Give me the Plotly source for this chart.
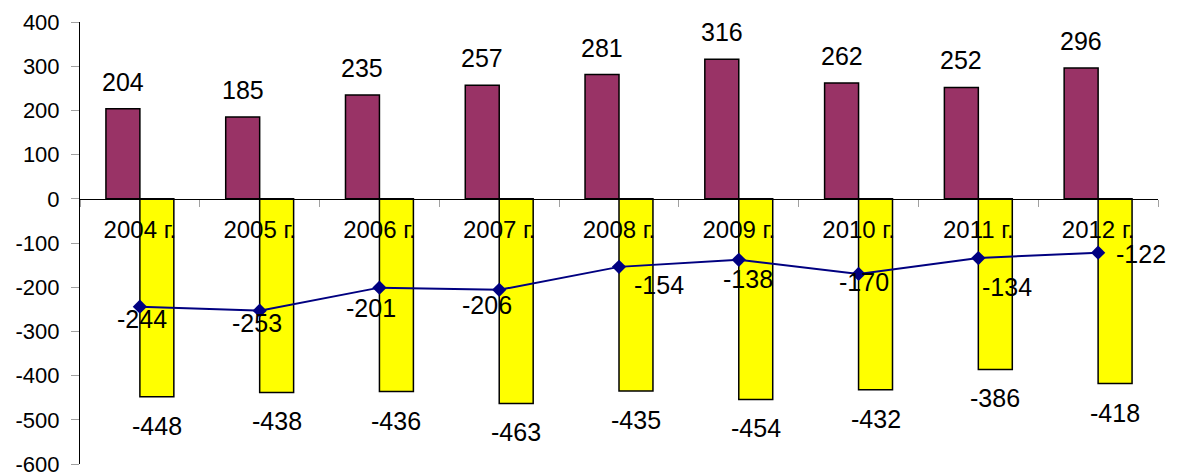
import plotly.graph_objects as go

categories = ["2004 г.", "2005 г.", "2006 г.", "2007 г.", "2008 г.",
              "2009 г.", "2010 г.", "2011 г.", "2012 г."]
positive_values = [204, 185, 235, 257, 281, 316, 262, 252, 296]
negative_values = [-448, -438, -436, -463, -435, -454, -432, -386, -418]
balance_values = [-244, -253, -201, -206, -154, -138, -170, -134, -122]
y_tick_values = [400, 300, 200, 100, 0, -100, -200, -300, -400, -500, -600]
y_tick_labels = [str(v) for v in y_tick_values]

# label offsets (pixels) for line labels: right, down
line_label_dx = [2, -3, -8, -12, 40, 9, 5, 29, 43]
line_label_dy = [12, 12, 20, 15, 18, 19, 8, 29, 1]

FONT = "Liberation Sans, Arial, sans-serif"

fig = go.Figure()
fig.add_trace(go.Bar(x=categories, y=positive_values,
                     marker=dict(color="#993366", line=dict(color="black", width=1.5)),
                     showlegend=False))
fig.add_trace(go.Bar(x=categories, y=negative_values,
                     marker=dict(color="#FFFF00", line=dict(color="black", width=1.5)),
                     showlegend=False))
fig.add_trace(go.Scatter(x=categories, y=balance_values, mode="lines+markers",
                         line=dict(color="#000080", width=2),
                         marker=dict(symbol="diamond", size=11, color="#000080"),
                         showlegend=False))

annotations = []
for c, v in zip(categories, positive_values):
    annotations.append(dict(x=c, y=v, text=str(v), showarrow=False, xshift=-17, yshift=27,
                            font=dict(size=25, color="black", family=FONT)))
for c, v in zip(categories, negative_values):
    annotations.append(dict(x=c, y=v, text=str(v), showarrow=False, xshift=17, yshift=-29,
                            font=dict(size=25, color="black", family=FONT)))
for c, v, dx, dy in zip(categories, balance_values, line_label_dx, line_label_dy):
    annotations.append(dict(x=c, y=v, text=str(v), showarrow=False, xshift=dx, yshift=-dy,
                            font=dict(size=25, color="black", family=FONT)))

fig.update_layout(
    width=1181, height=475,
    margin=dict(l=80, r=23, t=22, b=11),
    paper_bgcolor="white", plot_bgcolor="white",
    barmode="group", bargap=0.433, bargroupgap=0,
    font=dict(family=FONT, color="black"),
    annotations=annotations,
    xaxis=dict(type="category", anchor="free", position=0.6, automargin=False,
               showline=True, linecolor="black", linewidth=1,
               ticks="outside", tickson="boundaries", ticklen=7, tickcolor="#a0a0a0",
               ticklabelstandoff=9,
               tickfont=dict(size=24, family=FONT, color="black"),
               showgrid=False, zeroline=False, range=[-0.5, 8.5]),
    yaxis=dict(range=[-600, 400], tickvals=y_tick_values, ticktext=y_tick_labels,
               automargin=False, ticklabeloverflow="allow",
               showline=True, linecolor="black", linewidth=1,
               ticks="outside", ticklen=8, tickcolor="#a0a0a0",
               ticklabelstandoff=7,
               tickfont=dict(size=22, family=FONT, color="black"),
               showgrid=False, zeroline=False),
)

fig.write_html("out.html", config={"displayModeBar": False},
               post_script="document.body.style.margin='0';document.body.style.overflow='hidden';")
